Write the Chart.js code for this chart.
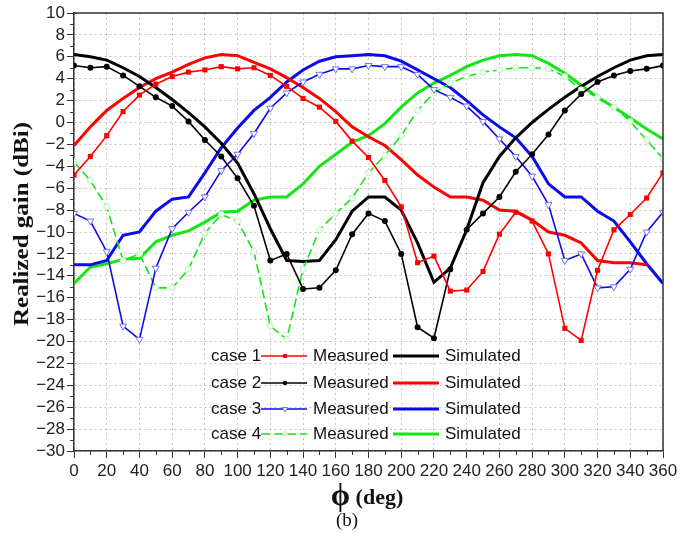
<!DOCTYPE html>
<html>
<head>
<meta charset="utf-8">
<script src="https://cdn.jsdelivr.net/npm/chart.js@4"></script>
<style>
  body { margin: 0; background: #fff; }
  canvas { display: block; }
</style>
</head>
<body>
<canvas id="gain" width="695" height="541"></canvas>
<script>
// azimuth angle (deg)
const phi = [0, 10, 20, 30, 40, 50, 60, 70, 80, 90, 100, 110, 120, 130, 140, 150, 160, 170, 180,
  190, 200, 210, 220, 230, 240, 250, 260, 270, 280, 290, 300, 310, 320, 330, 340, 350, 360];

// realized gain (dBi)
const case1Measured = [-4.8, -3.1, -1.2, 1.0, 2.5, 3.5, 4.2, 4.6, 4.8, 5.1, 4.9, 5.0, 4.3, 3.3, 2.2, 1.4, 0.1, -1.7, -3.2,
  -5.3, -7.7, -12.8, -12.2, -15.4, -15.3, -13.6, -10.2, -8.2, -9.0, -12.0, -18.8, -19.9, -13.5, -9.8, -8.4, -6.9, -4.6];
const case1Simulated = [6.2, 6.0, 5.7, 5.0, 4.2, 3.2, 2.1, 0.9, -0.4, -1.9, -3.7, -6.5, -9.7, -12.6, -12.7, -12.6, -10.7, -8.1, -6.8,
  -6.8, -8.0, -11.0, -14.6, -13.3, -9.8, -5.5, -3.1, -1.4, 0.0, 1.2, 2.3, 3.3, 4.2, 5.0, 5.7, 6.1, 6.2];
const case2Measured = [5.2, 5.0, 5.1, 4.3, 3.3, 2.3, 1.5, 0.1, -1.6, -3.1, -5.1, -7.6, -12.6, -12.0, -15.2, -15.1, -13.5, -10.2, -8.3,
  -9.0, -12.0, -18.7, -19.7, -13.4, -9.8, -8.3, -6.8, -4.5, -2.9, -1.1, 1.1, 2.6, 3.7, 4.3, 4.7, 4.9, 5.2];
const case2Simulated = [-2.1, -0.4, 1.1, 2.2, 3.2, 4.0, 4.6, 5.3, 5.9, 6.2, 6.1, 5.5, 4.9, 4.1, 3.2, 2.2, 1.0, -0.4, -1.3,
  -2.1, -3.4, -4.8, -5.9, -6.8, -6.8, -7.1, -8.0, -8.1, -8.9, -10.0, -10.3, -11.0, -12.6, -12.8, -12.8, -13.0, null];
const case3Measured = [-8.3, -9.0, -11.8, -18.6, -19.8, -13.3, -9.7, -8.2, -6.8, -4.4, -2.9, -1.0, 1.3, 2.7, 3.7, 4.4, 4.9, 4.9, 5.2,
  5.1, 5.1, 4.4, 3.0, 2.3, 1.5, 0.1, -1.5, -3.1, -4.9, -7.5, -12.6, -12.0, -15.1, -15.0, -13.4, -10.0, -8.2];
const case3Simulated = [-13.0, -13.0, -12.6, -10.3, -10.0, -8.1, -7.0, -6.8, -4.6, -2.3, -0.5, 1.1, 2.3, 3.7, 4.8, 5.6, 6.0, 6.1, 6.2,
  6.1, 5.6, 4.8, 4.0, 3.2, 2.0, 0.7, -0.4, -1.4, -3.1, -5.6, -6.8, -6.8, -8.1, -9.0, -10.9, -12.9, -14.7];
const case4Measured = [-3.6, -5.3, -7.7, -12.6, -12.0, -15.1, -15.1, -13.4, -10.1, -8.4, -9.0, -11.8, -18.6, -19.8, -13.4, -9.8, -8.3, -6.9, -4.6,
  -3.0, -1.2, 1.1, 2.7, 3.6, 4.2, 4.6, 4.8, 5.0, 5.0, 4.9, 4.2, 3.0, 2.3, 1.4, 0.1, -1.6, -3.3];
const case4Simulated = [-14.7, -13.2, -12.9, -12.5, -12.4, -10.9, -10.3, -9.9, -9.1, -8.2, -8.1, -7.1, -6.8, -6.8, -5.6, -4.0, -2.9, -1.8, -1.2,
  -0.1, 1.4, 2.7, 3.6, 4.3, 5.1, 5.7, 6.1, 6.2, 6.1, 5.4, 4.5, 3.4, 2.3, 1.4, 0.4, -0.6, -1.5];

const caseNames = ['case 1', 'case 2', 'case 3', 'case 4'];
const xSymbol = 'ϕ';
const xUnit = '(deg)';
const yTitle = 'Realized gain (dBi)';
const caption = '(b)';

const RED = '#ff0000', BLACK = '#000000', BLUE = '#0a0aee', GREEN = '#14e614';

const pts = arr => arr.map((v, i) => ({ x: phi[i], y: v }));

const simStyle = color => ({
  borderColor: color, backgroundColor: color, borderWidth: 3, pointRadius: 0, order: 2
});

const datasets = [
  { label: 'case 1 Simulated', data: pts(case1Simulated), ...simStyle(BLACK) },
  { label: 'case 2 Simulated', data: pts(case2Simulated), ...simStyle(RED) },
  { label: 'case 3 Simulated', data: pts(case3Simulated), ...simStyle(BLUE) },
  { label: 'case 4 Simulated', data: pts(case4Simulated), ...simStyle(GREEN) },
  { label: 'case 1 Measured', data: pts(case1Measured), borderColor: RED, backgroundColor: RED, borderWidth: 1.6,
    pointStyle: 'rect', pointRadius: 3.6, pointBorderWidth: 0, order: 1 },
  { label: 'case 2 Measured', data: pts(case2Measured), borderColor: BLACK, backgroundColor: BLACK, borderWidth: 1.6,
    pointStyle: 'circle', pointRadius: 3, pointBorderWidth: 0, order: 1 },
  { label: 'case 3 Measured', data: pts(case3Measured), borderColor: BLUE, backgroundColor: '#ffffff', borderWidth: 1.6,
    pointStyle: 'triangle', rotation: 180, pointRadius: 4, pointBorderWidth: 1, pointBorderColor: '#7070f0', order: 1 },
  { label: 'case 4 Measured', data: pts(case4Measured), borderColor: GREEN, backgroundColor: '#f0fff0', borderWidth: 1.6,
    borderDash: [9, 4], pointStyle: 'circle', pointRadius: 3, pointBorderWidth: 1, pointBorderColor: '#b8f0b8', order: 1 }
];

const tickFont = { family: '"Liberation Sans", Arial, sans-serif', size: 17 };
const minus = v => (v < 0 ? '\u2212' + Math.abs(v) : String(v));
const serif = '"Liberation Serif", "Times New Roman", serif';

// frame, minor ticks, in-plot legend and axis titles
const decorations = {
  id: 'decorations',
  afterDraw(chart) {
    const { ctx, chartArea: a, scales: { x, y } } = chart;
    ctx.save();
    ctx.strokeStyle = '#333';
    ctx.lineWidth = 1.5;
    ctx.beginPath();
    ctx.moveTo(a.left, a.top); ctx.lineTo(a.right, a.top); ctx.lineTo(a.right, a.bottom);
    ctx.stroke();

    ctx.lineWidth = 1;
    ctx.beginPath();
    for (let v = -29; v < 10; v += 2) {
      const py = Math.round(y.getPixelForValue(v)) + 0.5;
      ctx.moveTo(a.left - 4, py); ctx.lineTo(a.left, py);
    }
    for (let v = 10; v < 360; v += 20) {
      const px = Math.round(x.getPixelForValue(v)) + 0.5;
      ctx.moveTo(px, a.bottom); ctx.lineTo(px, a.bottom + 4);
    }
    ctx.stroke();

    // legend
    const rows = [356, 383, 409, 434];
    ctx.font = '17px "Liberation Sans", Arial, sans-serif';
    ctx.textBaseline = 'middle';
    rows.forEach((ry, i) => {
      const meas = chart.data.datasets[4 + i];
      const sim = chart.data.datasets[i];
      ctx.textAlign = 'left';
      ctx.fillStyle = '#111';
      ctx.fillText(caseNames[i], 211, ry);
      ctx.fillText('Measured', 313, ry);
      ctx.fillText('Simulated', 445, ry);

      ctx.save();
      ctx.strokeStyle = meas.borderColor;
      ctx.lineWidth = meas.borderWidth;
      ctx.setLineDash(meas.borderDash || []);
      ctx.beginPath(); ctx.moveTo(261, ry); ctx.lineTo(307, ry); ctx.stroke();
      ctx.restore();
      ctx.save();
      ctx.fillStyle = meas.backgroundColor;
      ctx.strokeStyle = meas.pointBorderColor || meas.borderColor;
      ctx.lineWidth = meas.pointBorderWidth;
      Chart.helpers.drawPoint(ctx, {
        pointStyle: meas.pointStyle, rotation: meas.rotation || 0, radius: meas.pointRadius * 0.75,
        borderWidth: meas.pointBorderWidth
      }, 285, ry);
      ctx.restore();

      ctx.save();
      ctx.strokeStyle = sim.borderColor;
      ctx.lineWidth = sim.borderWidth;
      ctx.beginPath(); ctx.moveTo(393, ry); ctx.lineTo(439, ry); ctx.stroke();
      ctx.restore();
    });

    // axis titles
    ctx.fillStyle = '#111';
    ctx.textAlign = 'left';
    ctx.textBaseline = 'alphabetic';
    ctx.font = 'bold 31px ' + serif;
    const ws = ctx.measureText(xSymbol).width;
    ctx.font = 'bold 22px ' + serif;
    const wu = ctx.measureText(' ' + xUnit).width;
    const x0 = 367 - (ws + wu) / 2;
    ctx.font = 'bold 31px ' + serif;
    ctx.fillText(xSymbol, x0, 505);
    ctx.font = 'bold 22px ' + serif;
    ctx.fillText(' ' + xUnit, x0 + ws, 504);

    ctx.textAlign = 'center';
    ctx.textBaseline = 'middle';
    ctx.font = '19px ' + serif;
    ctx.fillText(caption, 347, 521);

    ctx.translate(23, 224);
    ctx.rotate(-Math.PI / 2);
    ctx.font = 'bold 21px ' + serif;
    const w = ctx.measureText(yTitle).width;
    ctx.scale(204 / w, 1);
    ctx.fillText(yTitle, 0, 0);
    ctx.restore();
  }
};

new Chart(document.getElementById('gain'), {
  type: 'line',
  data: { datasets },
  plugins: [decorations],
  options: {
    responsive: false,
    animation: false,
    layout: { padding: { left: 0, top: 13, right: 32, bottom: 0 } },
    plugins: { legend: { display: false }, tooltip: { enabled: false } },
    elements: { line: { tension: 0 } },
    scales: {
      x: {
        type: 'linear', min: 0, max: 360,
        afterFit: s => { s.height = 90; },
        ticks: { stepSize: 20, autoSkip: false, maxRotation: 0, padding: 3, color: '#222', font: tickFont },
        grid: { color: '#c4c4c4', lineWidth: 1, tickColor: '#333', tickLength: 7, tickBorderDash: [] },
        border: { color: '#333', width: 1.5, dash: [2, 3] }
      },
      y: {
        min: -30, max: 10,
        afterFit: s => { s.width = 74; },
        ticks: { stepSize: 2, autoSkip: false, padding: 2, color: '#222', font: tickFont, callback: minus },
        grid: { color: '#c4c4c4', lineWidth: 1, tickColor: '#333', tickLength: 7, tickBorderDash: [] },
        border: { color: '#333', width: 1.5, dash: [2, 3] }
      }
    }
  }
});
</script>
</body>
</html>
